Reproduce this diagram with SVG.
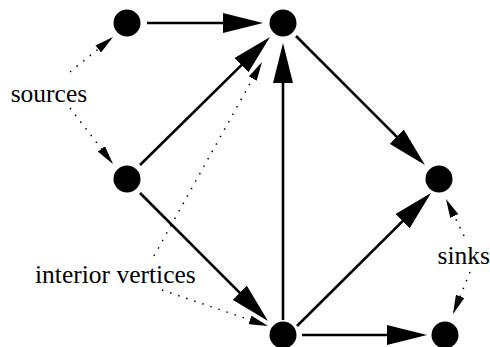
<svg xmlns="http://www.w3.org/2000/svg" width="490" height="347" viewBox="0 0 490 347">
  <style>
    .vertex { fill: #000; }
    .edge { stroke: #000; stroke-width: 2.6; fill: none; marker-end: url(#head); }
    .note { stroke: #000; stroke-width: 1.5; stroke-dasharray: 1.5 7; fill: none; marker-end: url(#smallhead); }
    .label { font-family: "Liberation Serif", "Times New Roman", serif; font-size: 25.5px; fill: #000; }
  </style>
  <defs>
    <marker id="head" markerUnits="userSpaceOnUse" viewBox="0 0 40 20" markerWidth="40" markerHeight="20" refX="32" refY="10" orient="auto">
      <path d="M0,0 L40,10 L0,20 Z" fill="#000"/>
    </marker>
    <marker id="smallhead" markerUnits="userSpaceOnUse" viewBox="0 0 19 9" markerWidth="19" markerHeight="9" refX="17" refY="4.5" orient="auto">
      <path d="M0,0 L19,4.5 L0,9 Z" fill="#000"/>
    </marker>
  </defs>

  <rect width="490" height="347" fill="#fff"/>

  <!-- directed edges and annotation pointers -->
  <g id="connectors">
    <line class="edge" x1="147" y1="23" x2="255" y2="23"/>
    <line class="edge" x1="140" y1="165" x2="264.3" y2="42.61"/>
    <line class="edge" x1="296" y1="36" x2="419.34" y2="159.34"/>
    <line class="edge" x1="283" y1="320" x2="283" y2="51"/>
    <line class="edge" x1="140" y1="193" x2="262.34" y2="315.34"/>
    <line class="edge" x1="297" y1="326" x2="425.32" y2="198.64"/>
    <line class="edge" x1="302" y1="335" x2="419" y2="335"/>

    <line class="note" x1="70" y1="72" x2="111.45" y2="38.26"/>
    <line class="note" x1="70" y1="108" x2="111.78" y2="162.41"/>
    <line class="note" x1="154" y1="256" x2="261.03" y2="63.75"/>
    <line class="note" x1="162" y1="290" x2="266.11" y2="325.36"/>
    <line class="note" x1="464" y1="236" x2="446.87" y2="200.8"/>
    <line class="note" x1="470" y1="272" x2="453.75" y2="312.15"/>
  </g>

  <!-- vertices -->
  <g id="v-a"><circle class="vertex" cx="127" cy="23" r="13.5"/></g>
  <g id="v-b"><circle class="vertex" cx="283" cy="23" r="13.5"/></g>
  <g id="v-c"><circle class="vertex" cx="127" cy="179" r="13.5"/></g>
  <g id="v-d"><circle class="vertex" cx="439" cy="179" r="13.5"/></g>
  <g id="v-e"><circle class="vertex" cx="283" cy="335" r="13.5"/></g>
  <g id="v-f"><circle class="vertex" cx="445" cy="335" r="13.5"/></g>

  <!-- labels -->
  <g id="label-sources"><text class="label" x="10.7" y="101.7">sources</text></g>
  <g id="label-interior"><text class="label" x="35" y="283.3">interior vertices</text></g>
  <g id="label-sinks"><text class="label" x="437.5" y="264">sinks</text></g>
</svg>
